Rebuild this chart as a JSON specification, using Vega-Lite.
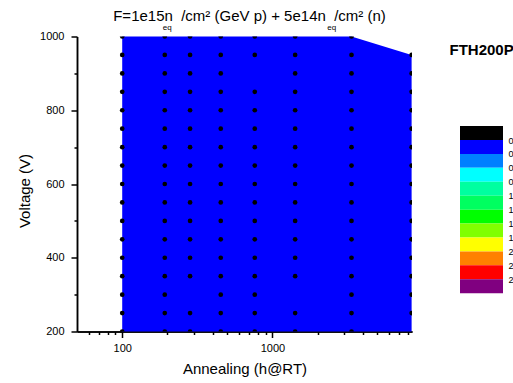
{
  "$schema": "https://vega.github.io/schema/vega-lite/v6.json",
  "padding": {"left": 17, "top": 8.5, "right": 0, "bottom": 0},
  "background": "#ffffff",
  "config": {
    "font": "Liberation Sans",
    "view": {"stroke": null},
    "axis": {"grid": false, "domainColor": "#000000", "tickColor": "#000000", "labelColor": "#000000", "titleColor": "#000000", "domainWidth": 1.5, "tickWidth": 1.5, "labelFontSize": 11, "titleFontWeight": "normal", "titleFontSize": 15},
    "title": {"color": "#000000", "fontWeight": "normal", "subtitleColor": "#000000"}
  },
  "spacing": 37,
  "hconcat": [
    {
      "width": 335,
      "height": 295,
      "title": {
        "text": "F=1e15n\u00a0\u00a0/cm² (GeV p) + 5e14n\u00a0\u00a0/cm² (n)",
        "subtitle": "\u00a0\u00a0eq\u00a0\u00a0\u00a0\u00a0\u00a0\u00a0\u00a0\u00a0\u00a0\u00a0\u00a0\u00a0\u00a0\u00a0\u00a0\u00a0\u00a0\u00a0\u00a0\u00a0\u00a0\u00a0\u00a0\u00a0\u00a0\u00a0\u00a0\u00a0\u00a0\u00a0\u00a0\u00a0\u00a0\u00a0\u00a0\u00a0\u00a0\u00a0\u00a0\u00a0\u00a0\u00a0\u00a0\u00a0\u00a0\u00a0\u00a0\u00a0\u00a0\u00a0\u00a0\u00a0\u00a0\u00a0\u00a0\u00a0\u00a0\u00a0\u00a0\u00a0\u00a0\u00a0\u00a0\u00a0\u00a0\u00a0\u00a0\u00a0\u00a0\u00a0eq",
        "fontSize": 15,
        "subtitleFontSize": 8,
        "anchor": "middle",
        "frame": "group",
        "dx": 5,
        "offset": -1,
        "subtitlePadding": 0
      },
      "data": {"values": [
        {"A":100,"V":200},{"A":100,"V":250},{"A":100,"V":300},{"A":100,"V":350},{"A":100,"V":400},{"A":100,"V":450},{"A":100,"V":500},{"A":100,"V":550},{"A":100,"V":600},{"A":100,"V":650},{"A":100,"V":700},{"A":100,"V":750},{"A":100,"V":800},{"A":100,"V":850},{"A":100,"V":900},{"A":100,"V":950},{"A":100,"V":1000},
        {"A":192,"V":200},{"A":192,"V":250},{"A":192,"V":300},{"A":192,"V":350},{"A":192,"V":400},{"A":192,"V":450},{"A":192,"V":500},{"A":192,"V":550},{"A":192,"V":600},{"A":192,"V":650},{"A":192,"V":700},{"A":192,"V":750},{"A":192,"V":800},{"A":192,"V":850},{"A":192,"V":900},{"A":192,"V":950},{"A":192,"V":1000},
        {"A":283,"V":200},{"A":283,"V":250},{"A":283,"V":350},{"A":283,"V":400},{"A":283,"V":450},{"A":283,"V":500},{"A":283,"V":550},{"A":283,"V":600},{"A":283,"V":650},{"A":283,"V":700},{"A":283,"V":750},{"A":283,"V":800},{"A":283,"V":850},{"A":283,"V":900},{"A":283,"V":950},{"A":283,"V":1000},
        {"A":453,"V":200},{"A":453,"V":250},{"A":453,"V":300},{"A":453,"V":350},{"A":453,"V":400},{"A":453,"V":450},{"A":453,"V":500},{"A":453,"V":550},{"A":453,"V":600},{"A":453,"V":650},{"A":453,"V":700},{"A":453,"V":750},{"A":453,"V":800},{"A":453,"V":850},{"A":453,"V":900},{"A":453,"V":950},{"A":453,"V":1000},
        {"A":763,"V":200},{"A":763,"V":250},{"A":763,"V":300},{"A":763,"V":350},{"A":763,"V":400},{"A":763,"V":450},{"A":763,"V":500},{"A":763,"V":550},{"A":763,"V":600},{"A":763,"V":650},{"A":763,"V":700},{"A":763,"V":750},{"A":763,"V":800},{"A":763,"V":850},{"A":763,"V":950},{"A":763,"V":1000},
        {"A":1417,"V":200},{"A":1417,"V":250},{"A":1417,"V":350},{"A":1417,"V":400},{"A":1417,"V":450},{"A":1417,"V":500},{"A":1417,"V":550},{"A":1417,"V":600},{"A":1417,"V":650},{"A":1417,"V":700},{"A":1417,"V":750},{"A":1417,"V":800},{"A":1417,"V":850},{"A":1417,"V":900},{"A":1417,"V":950},{"A":1417,"V":1000},
        {"A":3363,"V":200},{"A":3363,"V":250},{"A":3363,"V":300},{"A":3363,"V":350},{"A":3363,"V":400},{"A":3363,"V":450},{"A":3363,"V":500},{"A":3363,"V":550},{"A":3363,"V":600},{"A":3363,"V":650},{"A":3363,"V":700},{"A":3363,"V":750},{"A":3363,"V":800},{"A":3363,"V":850},{"A":3363,"V":900},{"A":3363,"V":950},{"A":3363,"V":1000},
        {"A":8450,"V":250},{"A":8450,"V":300},{"A":8450,"V":350},{"A":8450,"V":400},{"A":8450,"V":450},{"A":8450,"V":500},{"A":8450,"V":550},{"A":8450,"V":600},{"A":8450,"V":650},{"A":8450,"V":700},{"A":8450,"V":750},{"A":8450,"V":800},{"A":8450,"V":850},{"A":8450,"V":900},{"A":8450,"V":950}
      ]},
      "layer": [
        {
          "transform": [{"aggregate": [{"op": "max", "field": "V", "as": "Vmax"}], "groupby": ["A"]}],
          "mark": {"type": "area", "color": "#0000ff", "opacity": 1, "interpolate": "linear"},
          "encoding": {
            "x": {"field": "A", "type": "quantitative", "sort": "ascending",
                  "scale": {"type": "log", "domain": [50, 8500], "nice": false},
                  "axis": {"orient": "bottom", "values": [100, 1000], "format": "d", "tickSize": 6, "labelPadding": 5, "title": "Annealing (h@RT)", "titlePadding": 8}},
            "y": {"field": "Vmax", "type": "quantitative",
                  "scale": {"domain": [200, 1000], "nice": false, "zero": false},
                  "axis": {"orient": "left", "values": [200, 400, 600, 800, 1000], "format": "d", "tickSize": 6, "labelPadding": 7, "title": "Voltage (V)", "titleX": -52.5, "titleY": 154, "titleBaseline": "middle"}},
            "y2": {"datum": 200}
          }
        },
        {
          "mark": {"type": "point", "shape": "circle", "filled": true, "color": "#000000", "size": 22, "opacity": 1, "clip": true},
          "encoding": {
            "x": {"field": "A", "type": "quantitative",
                  "axis": {"orient": "bottom", "values": [60, 70, 80, 90, 200, 300, 400, 500, 600, 700, 800, 900, 2000, 3000, 4000, 5000, 6000, 7000, 8000], "tickSize": 3, "labels": false, "title": null}},
            "y": {"field": "V", "type": "quantitative",
                  "axis": {"orient": "left", "values": [300, 500, 700, 900], "tickSize": 3, "labels": false, "title": null}}
          }
        }
      ],
      "resolve": {"axis": {"x": "independent", "y": "independent"}}
    },
    {
      "width": 43,
      "height": 295,
      "data": {"values": [
        {"lo": -0.25, "hi": 0}, {"lo": 0, "hi": 0.25}, {"lo": 0.25, "hi": 0.5}, {"lo": 0.5, "hi": 0.75},
        {"lo": 0.75, "hi": 1}, {"lo": 1, "hi": 1.25}, {"lo": 1.25, "hi": 1.5}, {"lo": 1.5, "hi": 1.75},
        {"lo": 1.75, "hi": 2}, {"lo": 2, "hi": 2.25}, {"lo": 2.25, "hi": 2.5}, {"lo": 2.5, "hi": 2.75}
      ]},
      "mark": {"type": "rect"},
      "encoding": {
        "x": {"datum": "c", "type": "nominal",
              "scale": {"paddingInner": 0, "paddingOuter": 0},
              "axis": {"orient": "top", "labels": false, "ticks": false, "domain": false, "title": "FTH200P", "titleX": -11, "titleY": 17.5, "titleAlign": "left", "titleBaseline": "alphabetic", "titleAngle": 0, "titleFontSize": 15, "titleFontWeight": "bold", "titlePadding": 0}},
        "y": {"field": "lo", "type": "quantitative",
              "scale": {"domain": [-1.858, 3.437], "reverse": true, "nice": false, "zero": false},
              "axis": {"orient": "right", "values": [0, 0.25, 0.5, 0.75, 1, 1.25, 1.5, 1.75, 2, 2.25, 2.5], "ticks": false, "domain": false, "labelPadding": 5, "labelFontSize": 9, "title": null}},
        "y2": {"field": "hi"},
        "color": {"field": "lo", "type": "ordinal", "legend": null,
                  "scale": {"domain": [-0.25, 0, 0.25, 0.5, 0.75, 1, 1.25, 1.5, 1.75, 2, 2.25, 2.5],
                            "range": ["#000000", "#0000ff", "#0080ff", "#00ffff", "#00ffa0", "#00ff60", "#00ff00", "#80ff00", "#ffff00", "#ff8000", "#ff0000", "#800080"]}}
      }
    }
  ]
}
